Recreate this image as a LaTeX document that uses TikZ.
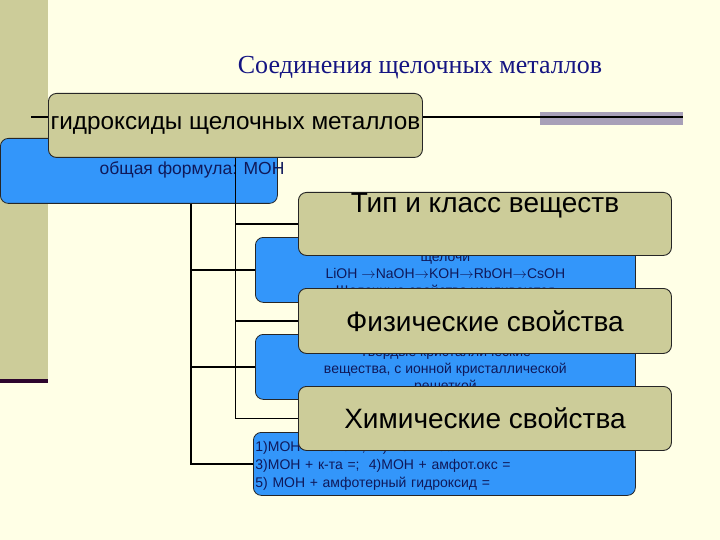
\documentclass[tikz,border=0pt]{standalone}
\usepackage{fontspec}
\setmainfont{Liberation Sans}
\newfontfamily\titleserif{Liberation Serif}
\definecolor{bgc}{RGB}{255,255,230}
\definecolor{khakic}{RGB}{204,204,153}
\definecolor{bandc}{RGB}{204,204,153}
\definecolor{darklinec}{RGB}{45,5,45}
\definecolor{greybarc}{RGB}{168,160,184}
\definecolor{bluec}{RGB}{51,150,250}
\definecolor{bluetext}{RGB}{15,25,90}
\definecolor{titlec}{RGB}{20,20,130}
\begin{document}
\begin{tikzpicture}[x=1pt,y=-1pt,
  khakibox/.style={draw=black!85, line width=0.9pt, fill=khakic, rounded corners=8pt, inner sep=0pt, anchor=north west, text=black, font=\fontsize{28}{32}\selectfont},
  bluebox/.style={draw=black!85, line width=0.8pt, fill=bluec, rounded corners=8pt, inner sep=0pt, anchor=north west, text=bluetext, font=\fontsize{14}{17}\selectfont, align=center},
  conn/.style={draw=black, line width=1.6pt},
  titletext/.style={font=\titleserif\fontsize{26}{30}\selectfont, text=titlec, inner sep=0pt}
]
\path[use as bounding box, fill=bgc] (0,0) rectangle (720,540);
% left band
\fill[bandc] (0,0) rectangle (48,379);
\fill[darklinec] (0,379) rectangle (48,383);
% title rule
\fill[greybarc] (540,112) rectangle (683,125);
\coordinate (hlA) at (31,117);
\coordinate (hlB) at (683,117);
\draw[line width=1.6pt] (hlA) -- (hlB);
% title
\node[titletext] (title) at (420,68) {Соединения щелочных металлов};
% blue boxes
\node[bluebox, minimum width=277pt, minimum height=65pt] (b1) at (0,138) {};
\node[text=bluetext, font=\fontsize{17.5}{20}\selectfont, inner sep=0pt] (b1t) at (192,170) {общая формула: МОН};
\node[bluebox, minimum width=380pt, minimum height=65pt] (b2) at (255,237)
  {\rule{0pt}{20pt}щелочи\\LiOH $\rightarrow$NaOH$\rightarrow$KOH$\rightarrow$RbOH$\rightarrow$CsOH\\Щелочные свойства усиливаются};
\node[bluebox, minimum width=380pt, minimum height=65pt] (b3) at (255,334)
  {\rule{0pt}{16pt}Твердые кристаллические\\вещества, с ионной кристаллической\\решеткой};
\node[bluebox, minimum width=382pt, minimum height=63pt, align=left, text width=378pt, inner xsep=2pt, font=\fontsize{14}{18}\selectfont] (b4) at (253,432)
  {\rule{0pt}{14pt}1)МОН + к.окс =;\ \ 2)МОН + соль =\\3)МОН + к-та =;\ \ 4)МОН + амфот.окс =\\5) МОН + амфотерный гидроксид =};
% khaki boxes
\node[khakibox, minimum width=374pt, minimum height=64pt, font=\fontsize{24.3}{28}\selectfont] (top) at (48,93) {\raisebox{-4pt}{гидроксиды щелочных металлов}};
\node[khakibox, minimum width=373pt, minimum height=63pt, text depth=43pt] (typ) at (298,192) {Тип и класс веществ};
\node[khakibox, minimum width=373pt, minimum height=65pt] (phys) at (298,288) {Физические свойства};
\node[khakibox, minimum width=373pt, minimum height=64pt] (chem) at (298,386) {Химические свойства};
% connectors
\draw[conn] (top.south) |- (typ.west);
\draw[conn] (top.south) |- (phys.west);
\draw[conn] (top.south) |- (chem.west);
\draw[conn] ([xshift=191pt]b1.south west) |- (b2.west);
\draw[conn] ([xshift=191pt]b1.south west) |- (b3.west);
\draw[conn] ([xshift=191pt]b1.south west) |- (b4.west);
\end{tikzpicture}
\end{document}
